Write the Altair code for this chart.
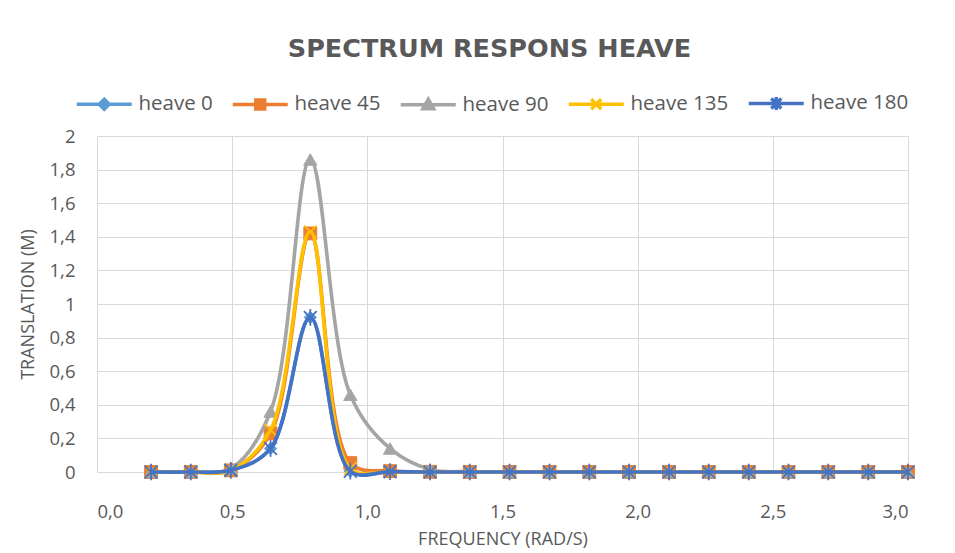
import altair as alt
import pandas as pd

# ---------------- data ----------------
names = ["heave 0", "heave 45", "heave 90", "heave 135", "heave 180"]
freq = [0.200, 0.347, 0.495, 0.642, 0.789, 0.937, 1.084, 1.232, 1.379, 1.526,
        1.674, 1.821, 1.968, 2.116, 2.263, 2.411, 2.558, 2.705, 2.853, 3.000]
heave_0 = [0, 0, 0.01, 0.14, 0.92, 0.005, 0.002, 0, 0, 0, 0, 0, 0, 0, 0, 0, 0, 0, 0, 0]
heave_45 = [0, 0, 0.01, 0.23, 1.42, 0.053, 0.005, 0.001, 0, 0, 0, 0, 0, 0, 0, 0, 0, 0, 0, 0]
heave_90 = [0, 0, 0.02, 0.36, 1.86, 0.46, 0.14, 0.015, 0.002, 0, 0, 0, 0, 0, 0, 0, 0, 0, 0, 0]
heave_135 = [0, 0, 0.01, 0.25, 1.43, 0.02, 0.003, 0.001, 0, 0, 0, 0, 0, 0, 0, 0, 0, 0, 0, 0]
heave_180 = [0, 0, 0.01, 0.14, 0.92, 0.005, 0.002, 0, 0, 0, 0, 0, 0, 0, 0, 0, 0, 0, 0, 0]
series_values = [heave_0, heave_45, heave_90, heave_135, heave_180]

x_ticks = [0.0, 0.5, 1.0, 1.5, 2.0, 2.5, 3.0]
y_ticks = [0, 0.2, 0.4, 0.6, 0.8, 1.0, 1.2, 1.4, 1.6, 1.8, 2.0]

# ---------------- styling ----------------
colors = ["#5B9BD5", "#ED7D31", "#A5A5A5", "#FFC000", "#4472C4"]
X_PATH = "M-1,-1L1,1M-1,1L1,-1"
STAR_PATH = "M-1,-1L1,1M-1,1L1,-1M0,-1.3L0,1.3"
marker_shapes = ["diamond", "square", "triangle-up", X_PATH, STAR_PATH]
marker_filled = [True, True, True, False, False]
marker_sizes = [150, 165, 175, 150, 165]

LINE = "M-5.5,0L5.5,0"
legend_paths = [
    LINE + "M0,-1L1,0L0,1L-1,0Z",
    LINE + "M-0.9,-0.9L0.9,-0.9L0.9,0.9L-0.9,0.9Z",
    LINE + "M0,-1.1L1.1,0.8L-1.1,0.8Z",
    LINE + X_PATH,
    LINE + STAR_PATH,
]

TXT = "#595959"
GRID = "#D9D9D9"
FONT = "Open Sans"

rows = []
for name, vals in zip(names, series_values):
    for f, v in zip(freq, vals):
        rows.append({"series": name, "freq": f, "amp": v})
df = pd.DataFrame(rows)

x_enc = alt.X(
    "freq:Q",
    scale=alt.Scale(domain=[0, 3], nice=False),
    axis=alt.Axis(
        values=x_ticks,
        labelExpr="replace(format(datum.value, '.1f'), '.', ',')",
        grid=True, gridColor=GRID, gridWidth=1,
        domain=False, ticks=False,
        labelFont=FONT, labelFontSize=18.5, labelColor=TXT, labelPadding=30,
        title="FREQUENCY (RAD/S)", titleFont=FONT, titleFontSize=18,
        titleFontWeight="normal", titleColor=TXT, titlePadding=10,
    ),
)
y_enc = alt.Y(
    "amp:Q",
    scale=alt.Scale(domain=[0, 2], nice=False),
    axis=alt.Axis(
        values=y_ticks,
        labelExpr="replace(format(datum.value, '.1~f'), '.', ',')",
        grid=True, gridColor=GRID, gridWidth=1,
        domain=False, ticks=False,
        labelFont=FONT, labelFontSize=18.5, labelColor=TXT, labelPadding=22,
        title="TRANSLATION (M)", titleFont=FONT, titleFontSize=18,
        titleFontWeight="normal", titleColor=TXT, titlePadding=12,
    ),
)

layers = []
for i, name in enumerate(names):
    base = alt.Chart(df).transform_filter(alt.datum.series == name)
    line = base.mark_line(
        interpolate="catmull-rom", color=colors[i], strokeWidth=3.6
    ).encode(x=x_enc, y=y_enc)
    if marker_filled[i]:
        pts = base.mark_point(
            shape=marker_shapes[i], filled=True, color=colors[i],
            size=marker_sizes[i], opacity=1, stroke=colors[i], strokeWidth=1,
        ).encode(x=x_enc, y=y_enc)
    else:
        pts = base.mark_point(
            shape=marker_shapes[i], filled=False, color=colors[i],
            size=marker_sizes[i], opacity=1, strokeWidth=1.8,
        ).encode(x=x_enc, y=y_enc)
    layers += [line, pts]

leg = alt.Legend(
    title=None, orient="none", legendX=-3, legendY=-43, direction="horizontal",
    columns=5, padding=0, labelFont=FONT, labelFontSize=20.5, labelColor=TXT,
    symbolSize=100, symbolStrokeWidth=3.4, labelOffset=24, columnPadding=12,
    symbolOpacity=1,
)
legend_layer = (
    alt.Chart(df)
    .transform_filter("false")
    .mark_point(filled=True, opacity=1, strokeWidth=3.4)
    .encode(
        x=x_enc, y=y_enc,
        fill=alt.Fill("series:N", scale=alt.Scale(domain=names, range=colors), legend=leg),
        stroke=alt.Stroke("series:N", scale=alt.Scale(domain=names, range=colors), legend=leg),
        shape=alt.Shape("series:N", scale=alt.Scale(domain=names, range=legend_paths), legend=leg),
    )
)

chart = (
    alt.layer(*layers, legend_layer)
    .properties(
        width=811, height=336,
        title=alt.TitleParams(
            "SPECTRUM RESPONS HEAVE", font="DejaVu Sans", fontSize=25.5,
            fontWeight="bold", color=TXT, anchor="middle", offset=31, dx=-13,
        ),
        autosize=alt.AutoSizeParams(type="none"),
        padding={"left": 97, "top": 136, "right": 47, "bottom": 81},
        background="white",
    )
    .configure_view(strokeWidth=0)
)

chart.save("out.html", embed_options={"renderer": "svg", "actions": False})
